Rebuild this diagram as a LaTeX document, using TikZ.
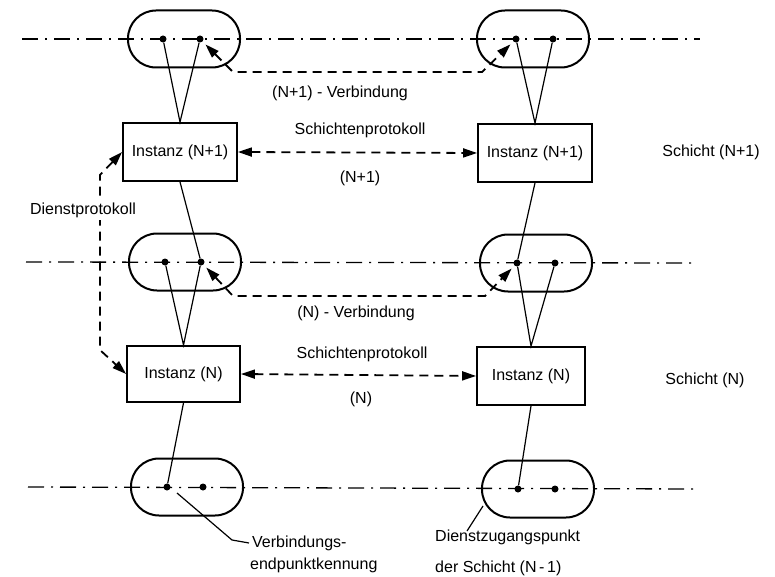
\documentclass[tikz,border=0pt]{standalone}
\usepackage{fontspec}
\setmainfont{Liberation Sans}
\usetikzlibrary{arrows.meta}
\newcommand\lblfont{\fontsize{16}{19}\selectfont}
\begin{document}
\begin{tikzpicture}[x=1pt,y=-1pt,
  sap/.style={draw, line width=2pt, minimum width=112pt, minimum height=57pt,
              rounded corners=28pt, inner sep=0pt},
  inst/.style={draw, line width=1.8pt, minimum height=58pt, inner sep=0pt, font=\lblfont},
  dot/.style={circle, fill, inner sep=0pt, minimum size=7pt},
  axis/.style={line width=1.3pt, dash pattern=on 16pt off 7pt on 2pt off 7pt},
  link/.style={line width=1.2pt},
  proto/.style={line width=1.8pt, dash pattern=on 9pt off 6pt,
                {Triangle[length=14pt,width=9pt]}-{Triangle[length=14pt,width=9pt]}},
  lbl/.style={font=\lblfont, inner sep=0pt}
]
\useasboundingbox (0,0) rectangle (775,577);

% layer boundary axes
\coordinate (a1) at (22,39);  \coordinate (a2) at (700,39);
\coordinate (b1) at (26,262); \coordinate (b2) at (697,263);
\coordinate (c1) at (28,487); \coordinate (c2) at (697,489);
\draw[axis] (a1) -- (a2);
\draw[axis] (b1) -- (b2);
\draw[axis] (c1) -- (c2);

% service access points
\node[sap] (ctl) at (184,39) {};
\node[sap] (ctr) at (533,39) {};
\node[sap] (cml) at (185,262) {};
\node[sap] (cmr) at (536,263) {};
\node[sap] (cbl) at (187,487) {};
\node[sap] (cbr) at (538,489) {};

% connection end points
\node[dot] (tl1) at (163,39) {};  \node[dot] (tl2) at (200,39) {};
\node[dot] (tr1) at (516,39) {};  \node[dot] (tr2) at (553,39) {};
\node[dot] (ml1) at (165,262) {}; \node[dot] (ml2) at (201,262) {};
\node[dot] (mr1) at (517,263) {}; \node[dot] (mr2) at (555,263) {};
\node[dot] (bl1) at (167,487) {}; \node[dot] (bl2) at (203,487) {};
\node[dot] (br1) at (518,489) {}; \node[dot] (br2) at (555,489) {};

% entities
\node[inst, minimum width=114pt] (i1l) at (180,152) {Instanz (N+1)};
\node[inst, minimum width=114pt] (i1r) at (535,153) {Instanz (N+1)};
\node[inst, minimum width=113pt, minimum height=56pt] (inl) at (183.5,374) {Instanz (N)};
\node[inst, minimum width=108pt] (inr) at (531,376) {Instanz (N)};

% entity to end point links
\draw[link] (tl1) -- (i1l.north) -- (tl2);
\draw[link] (tr1) -- (i1r.north) -- (tr2);
\draw[link] (i1l.south) -- (ml2);
\draw[link] (i1r.south) -- (mr1);
\draw[link] (ml1) -- (inl.north) -- (ml2);
\draw[link] (mr1) -- (inr.north) -- (mr2);
\draw[link] (inl.south) -- (bl1);
\draw[link] (inr.south) -- (br1);

% peer protocols
\draw[proto] (i1l.east) -- (i1r.west);
\draw[proto] (inl.east) -- (inr.west);

% service protocol
\coordinate (d1) at (100,175);
\coordinate (d2) at (100,350);
\draw[proto] (i1l.west) -- (d1) -- (d2) -- (inl.west);

% connections
\coordinate (v1a) at (233,72);  \coordinate (v1b) at (482,72);
\coordinate (v2a) at (233,296); \coordinate (v2b) at (485,296);
\draw[proto, shorten <=4pt, shorten >=4pt] (tl2) -- (v1a) -- (v1b) -- (tr1);
\draw[proto, shorten <=4pt, shorten >=4pt] (ml2) -- (v2a) -- (v2b) -- (mr1);

% labels
\node[lbl] (sp1) at (360,130) {Schichtenprotokoll};
\node[lbl] (nn1) at (360,178) {(N+1)};
\node[lbl] (sp2) at (362,354) {Schichtenprotokoll};
\node[lbl] (nn2) at (361,399) {(N)};
\node[lbl] (vb1) at (340,93) {(N+1) - Verbindung};
\node[lbl] (vb2) at (356,313) {(N) - Verbindung};
\node[lbl] (sc1) at (711,152) {Schicht (N+1)};
\node[lbl] (sc2) at (705,380) {Schicht (N)};
\node[lbl, fill=white, inner ysep=3pt] (dp) at (83,210) {Dienstprotokoll};

\node[lbl, anchor=west] (vk1) at (252,543) {Verbindungs-};
\node[lbl, anchor=west] (vk2) at (250,565) {endpunktkennung};
\node[lbl, anchor=west] (dz1) at (435,537) {Dienstzugangspunkt};
\node[lbl, anchor=west] (dz2) at (435,568) {der Schicht (N\,-\,1)};

% leaders
\coordinate (k1) at (177,493);
\coordinate (k2) at (232,540);
\draw[link] (k1) -- (k2) -- ([xshift=-3pt]vk1.west);
\coordinate (z1) at (483,506);
\coordinate (z2) at (467,531);
\draw[link] (z1) -- (z2);
\end{tikzpicture}
\end{document}
